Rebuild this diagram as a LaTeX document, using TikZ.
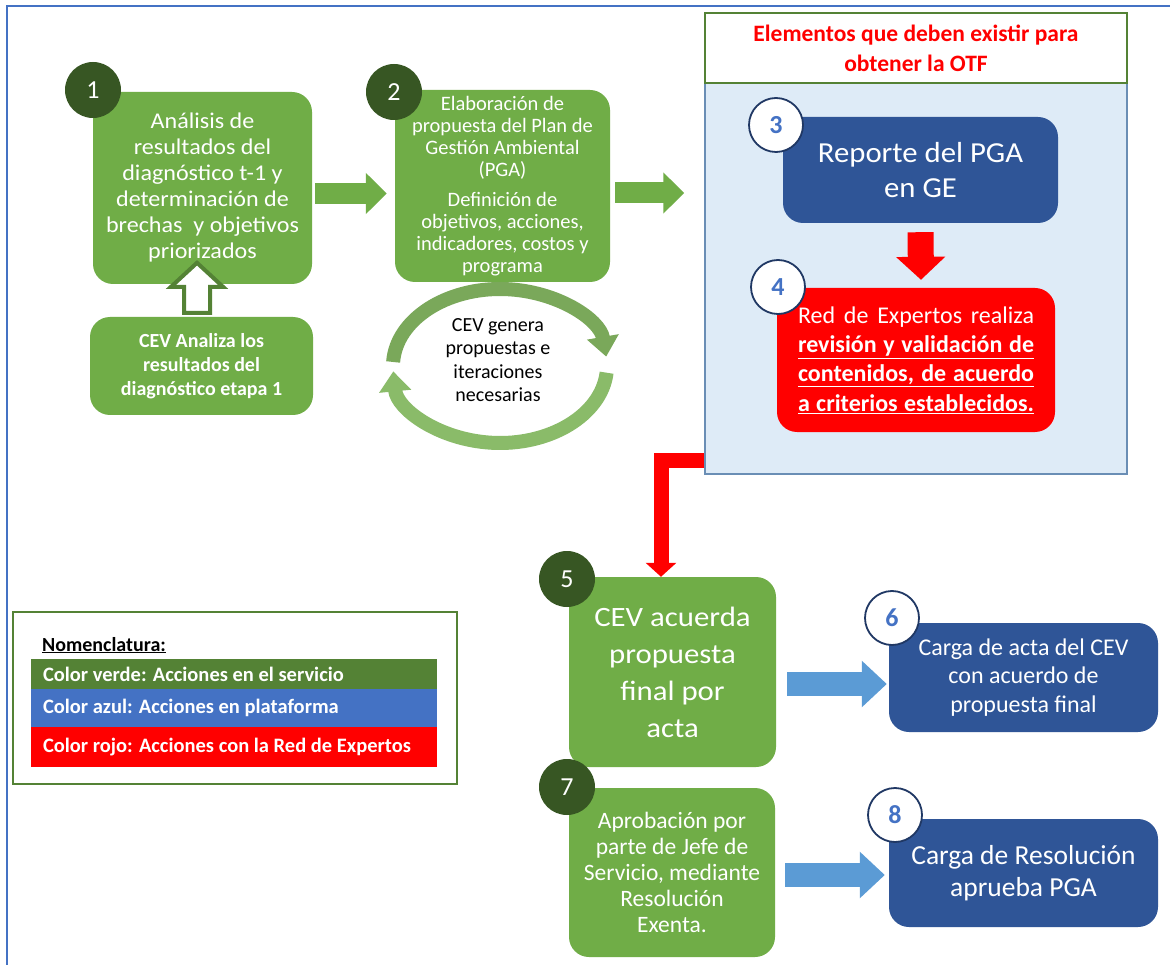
\documentclass[tikz,border=0pt]{standalone}
\usepackage{fontspec}
\setmainfont{Carlito}
\newfontfamily\widefont{Carlito}[FakeStretch=1.1]
\newfontfamily\stretchA{Carlito}[FakeStretch=1.07]
\newfontfamily\stretchB{Carlito}[FakeStretch=1.06]
\usetikzlibrary{arrows.meta}
\definecolor{gbox}{HTML}{70AD47}
\definecolor{gdark}{HTML}{375623}
\definecolor{bbox}{HTML}{2F5597}
\definecolor{bnum}{HTML}{4472C4}
\definecolor{bline}{HTML}{203864}
\definecolor{panelfill}{HTML}{DEEBF7}
\definecolor{panelline}{HTML}{6A8EB5}
\definecolor{hdrline}{HTML}{548235}
\definecolor{barrow}{HTML}{5B9BD5}
\definecolor{cycg}{HTML}{8ABB69}
\definecolor{cycd}{HTML}{7AA85A}
\definecolor{framec}{HTML}{4472C4}
\definecolor{lgreen}{HTML}{548235}
\definecolor{pred}{HTML}{FF0000}
\begin{document}
\begin{tikzpicture}[x=1pt,y=-1pt,
  gnode/.style={fill=gbox, rounded corners=20pt, text=white, align=center, inner sep=0pt},
  bnode/.style={fill=bbox, rounded corners=20pt, text=white, align=center, inner sep=0pt},
  rnode/.style={fill=pred, rounded corners=20pt, text=white, align=center, inner sep=0pt},
  numg/.style={circle, fill=gdark, text=white, minimum size=56pt, inner sep=0pt, font=\fontsize{26}{26}\selectfont},
  numb/.style={circle, draw=bline, line width=1.8pt, fill=white, text=bnum, minimum size=54pt, inner sep=0pt, font=\bfseries\fontsize{26}{26}\selectfont},
  garrow/.style={gbox, line width=21pt, -{Triangle[width=40pt,length=21pt]}},
  barr/.style={barrow, line width=24pt, -{Triangle[width=45pt,length=25pt]}},
  cycarrow/.style={line width=14pt, -{Triangle[width=31pt,length=20pt]}},
  legrow/.style={minimum width=406pt, inner sep=0pt, text=white, font=\bfseries\fontsize{20.5}{21}\selectfont}
]
\useasboundingbox (0,0) rectangle (1170,965);
\fill[white] (0,0) rectangle (1170,965);
\draw[framec, line width=2pt] (7,980) -- (7,6) -- (1180,6);

% step 1
\node[gnode, minimum width=219pt, minimum height=192pt,
      font=\stretchA\fontsize{22.5}{26}\selectfont] (n1) at (202.5,188)
  {Análisis de\\resultados del\\diagnóstico t-1 y\\determinación de\\brechas\ \ y objetivos\\priorizados};
\node[numg] (c1) at (93,90) {1};
\node[gnode, minimum width=223pt, minimum height=98pt,
      font=\bfseries\fontsize{20}{24}\selectfont] (cev) at (201.5,366)
  {CEV Analiza los\\resultados del\\diagnóstico etapa 1};
\draw[hdrline, line width=4pt, fill=white, line join=miter]
  ([xshift=-17.5pt,yshift=4pt]cev.north) -- ++(0,-26) -- ++(-13,0) -- ++(26,-24)
  -- ++(26,24) -- ++(-13,0) -- ++(0,26) -- cycle;

% step 2
\node[gnode, minimum width=215pt, minimum height=192pt,
      font=\fontsize{20.5}{22}\selectfont] (n2) at (502.5,186)
  {Elaboración de\\propuesta del Plan de\\Gestión Ambiental\\(PGA)\\[8pt]Definición de\\objetivos, acciones,\\indicadores, costos y\\programa};
\node[numg] (c2) at (394,92) {2};
\draw[garrow] ([xshift=3pt,yshift=-5.5pt]n1.east) -- ([xshift=-8pt,yshift=-7.5pt]n2.west);

% cycle
\coordinate (cc) at (500,366);
\node[font=\fontsize{20}{23.5}\selectfont, align=center, inner sep=0pt] (cyc) at (498,360)
  {CEV genera\\propuestas e\\iteraciones\\necesarias};
\draw[cycarrow, cycd] ([shift={(183:107 and 77)}]cc) arc[start angle=183, end angle=353, x radius=107, y radius=77];
\draw[cycarrow, cycg] ([shift={(5:107 and 77)}]cc) arc[start angle=5, end angle=176, x radius=107, y radius=77];

% panel
\node[draw=panelline, line width=1.5pt, fill=panelfill, minimum width=422pt, minimum height=391pt, inner sep=0pt] (panel) at (916,278.5) {};
\node[draw=hdrline, line width=1.5pt, fill=white, minimum width=422pt, minimum height=70pt, inner sep=0pt,
      text=pred, align=center, font=\bfseries\fontsize{23.5}{30}\selectfont] (hdr) at (916,48)
  {Elementos que deben existir para\\obtener la OTF};
\draw[garrow] ([xshift=5pt,yshift=-7pt]n2.east) -- ([xshift=-20pt,yshift=85.5pt]panel.west);

\node[bnode, minimum width=275pt, minimum height=106pt,
      font=\stretchB\fontsize{29}{35}\selectfont] (n3) at (920.5,170)
  {Reporte del PGA\\en GE};
\node[numb] (c3) at (776,125) {3};
\node[rnode, minimum width=278pt, minimum height=144pt,
      font=\fontsize{24}{29.3}\selectfont] (n4) at (916,360)
  {\makebox[236pt][s]{Red de Expertos realiza}\\
   \underline{\makebox[236pt][s]{\bfseries revisión y validación de}}\\
   \underline{\makebox[236pt][s]{\bfseries contenidos, de acuerdo}}\\
   \underline{\makebox[236pt][s]{\bfseries a criterios establecidos.}}};
\node[numb] (c4) at (778,287) {4};
\draw[pred, line width=26pt, -{Triangle[width=48pt,length=23pt]}] ([yshift=-9pt]n3.south) -- ([xshift=5pt,yshift=8pt]n4.north);

% step 5-8
\node[gnode, minimum width=207pt, minimum height=190pt,
      font=\widefont\fontsize{28}{37}\selectfont] (n5) at (672.5,672)
  {CEV acuerda\\propuesta\\final por\\acta};
\node[numg] (c5) at (567,579) {5};
\draw[pred, line width=15pt, line join=miter, -{Triangle[width=30pt,length=14pt]}]
  ([yshift=-181.5pt]panel.west) -| ([xshift=-11.5pt]n5.north);

\node[bnode, minimum width=269pt, minimum height=109pt,
      font=\fontsize{24}{28.5}\selectfont] (n6) at (1023.5,677.5)
  {Carga de acta del CEV\\con acuerdo de\\propuesta final};
\node[numb] (c6) at (892,618) {6};
\draw[barr] ([xshift=11pt,yshift=-12pt]n5.east) -- ([xshift=-2pt,yshift=-6.5pt]n6.west);

\node[gnode, minimum width=206pt, minimum height=169pt,
      font=\fontsize{23.5}{26}\selectfont] (n7) at (672,872.5)
  {Aprobación por\\parte de Jefe de\\Servicio, mediante\\Resolución\\Exenta.};
\node[numg] (c7) at (567,787) {7};
\node[bnode, minimum width=269pt, minimum height=108pt,
      font=\fontsize{27.5}{31.5}\selectfont] (n8) at (1023.5,873)
  {Carga de Resolución\\aprueba PGA};
\node[numb] (c8) at (895,815) {8};
\draw[barr] ([xshift=10pt,yshift=-2.5pt]n7.east) -- ([xshift=-4pt,yshift=-2pt]n8.west);

% legend
\node[draw=lgreen, line width=1.5pt, fill=white, minimum width=444pt, minimum height=172pt, inner sep=0pt] (leg) at (235,698) {};
\node[anchor=base west, inner sep=0pt, font=\bfseries\fontsize{20}{20}\selectfont] (nom) at (42,651) {\underline{Nomenclatura:}};
\node[legrow, fill=lgreen, minimum height=30pt] (lg) at (234,674) {\makebox[382pt][l]{Color verde: Acciones en el servicio}};
\node[legrow, fill=bnum, minimum height=38pt] (lb) at (234,708) {\makebox[382pt][l]{Color azul: Acciones en plataforma}};
\node[legrow, fill=pred, minimum height=40pt] (lr) at (234,747) {\makebox[382pt][l]{Color rojo: Acciones con la Red de Expertos}};
\end{tikzpicture}
\end{document}
